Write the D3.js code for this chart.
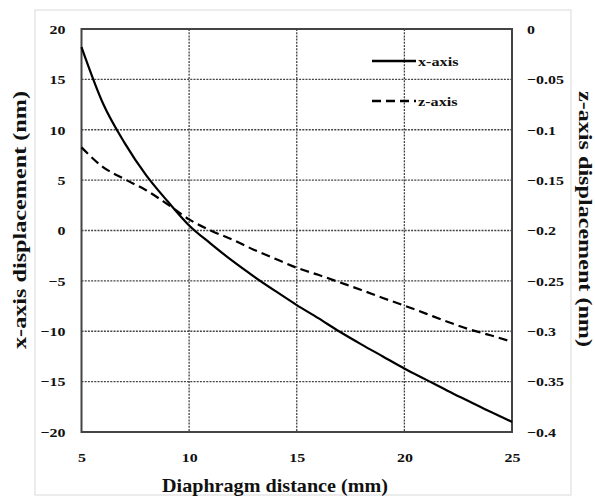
<!DOCTYPE html>
<html>
<head>
<meta charset="utf-8">
<script src="https://cdn.jsdelivr.net/npm/d3@7"></script>
<style>
  body { margin: 0; background: #fff; }
  svg { display: block; }
  text { font-family: "Liberation Serif", "Times New Roman", serif; font-weight: bold; fill: #111; }
</style>
</head>
<body>
<svg id="chart" width="595" height="500"></svg>
<script>
// ---- data ----
const distance = [5, 6, 7, 8, 9, 10, 11, 12, 13, 14, 15, 16, 17, 18, 19, 20, 21, 22, 23, 24, 25];
const xAxisDisp = [18.2, 12.6, 8.7, 5.5, 2.9, 0.5, -1.3, -3.0, -4.55, -6.0, -7.4, -8.7, -10.05, -11.3, -12.5, -13.7, -14.8, -15.9, -16.95, -18.0, -19.0];
const zAxisDisp = [-0.1175, -0.137, -0.149, -0.160, -0.174, -0.189, -0.200, -0.209, -0.219, -0.228, -0.237, -0.244, -0.2515, -0.259, -0.267, -0.2745, -0.2825, -0.2905, -0.298, -0.304, -0.3105];
const xTicks = [5, 10, 15, 20, 25];
const leftTicks = [20, 15, 10, 5, 0, -5, -10, -15, -20];
const rightTicks = [0, -0.05, -0.1, -0.15, -0.2, -0.25, -0.3, -0.35, -0.4];
const seriesNames = ["x-axis", "z-axis"];
const xTitle = "Diaphragm distance (mm)";
const leftTitle = "x-axis displacement (nm)";
const rightTitle = "z-axis displacement (nm)";

// ---- layout ----
const svg = d3.select("#chart");
const L = 81.5, R = 512, T = 29, B = 432;
const x = d3.scaleLinear().domain([5, 25]).range([L, R]);
const yL = d3.scaleLinear().domain([-20, 20]).range([B, T]);
const yR = d3.scaleLinear().domain([-0.4, 0]).range([B, T]);

// horizontal stretch helper (reference typography is widened)
function stretch(sel, k) {
  sel.each(function () {
    const w = this.getComputedTextLength();
    d3.select(this).attr("textLength", w * k).attr("lengthAdjust", "spacingAndGlyphs");
  });
}

// outer frame
svg.append("rect").attr("x", 35).attr("y", 10).attr("width", 536).attr("height", 485)
  .attr("fill", "#fff").attr("stroke", "#d9d9d9").attr("stroke-width", 1);

// grid
const grid = svg.append("g").attr("stroke", "#444").attr("stroke-width", 1.3).attr("stroke-dasharray", "2,1.2");
grid.selectAll("line.v").data(xTicks.filter(d => d > 5 && d < 25)).join("line")
  .attr("x1", d => x(d)).attr("x2", d => x(d)).attr("y1", T).attr("y2", B);
grid.selectAll("line.h").data(leftTicks.filter(d => d > -20 && d < 20)).join("line")
  .attr("class", "h")
  .attr("x1", L).attr("x2", R).attr("y1", d => yL(d)).attr("y2", d => yL(d));

// axes (labels only, via d3 axes)
const axL = svg.append("g").attr("transform", `translate(${L},0)`)
  .call(d3.axisLeft(yL).tickValues(leftTicks).tickSize(0).tickPadding(16).tickFormat(d3.format("d")));
const axR = svg.append("g").attr("transform", `translate(${R},0)`)
  .call(d3.axisRight(yR).tickValues(rightTicks).tickSize(0).tickPadding(15).tickFormat(d => d === 0 ? "0" : d3.format("")(d)));
const axB = svg.append("g").attr("transform", `translate(0,${B})`)
  .call(d3.axisBottom(x).tickValues(xTicks).tickSize(0).tickPadding(20).tickFormat(d3.format("d")));
[axL, axR, axB].forEach(a => {
  a.select(".domain").remove();
  a.selectAll("text").attr("font-size", 13.5).attr("font-family", "Liberation Serif").attr("font-weight", "bold").attr("fill", "#111");
  stretch(a.selectAll("text"), 1.18);
});

// plot border
svg.append("rect").attr("x", L).attr("y", T).attr("width", R - L).attr("height", B - T)
  .attr("fill", "none").attr("stroke", "#444").attr("stroke-width", 2);

// lines
const lineL = d3.line().x((d, i) => x(distance[i])).y(d => yL(d)).curve(d3.curveMonotoneX);
const lineR = d3.line().x((d, i) => x(distance[i])).y(d => yR(d)).curve(d3.curveMonotoneX);
svg.append("path").datum(xAxisDisp).attr("d", lineL)
  .attr("fill", "none").attr("stroke", "#000").attr("stroke-width", 2.2);
svg.append("path").datum(zAxisDisp).attr("d", lineR)
  .attr("fill", "none").attr("stroke", "#000").attr("stroke-width", 2.2).attr("stroke-dasharray", "9,5");

// legend
const leg = svg.append("g");
const legY = [61, 101];
leg.selectAll("line").data(seriesNames).join("line")
  .attr("x1", 372).attr("x2", 416).attr("y1", (d, i) => legY[i]).attr("y2", (d, i) => legY[i])
  .attr("stroke", "#000").attr("stroke-width", 2.4)
  .attr("stroke-dasharray", (d, i) => i === 1 ? "9,5" : null);
const legText = leg.selectAll("text").data(seriesNames).join("text")
  .attr("x", 418).attr("y", (d, i) => legY[i] + 4.5).attr("font-size", 13.5).text(d => d);
stretch(legText, 1.2);

// titles
svg.append("text").attr("x", 275).attr("y", 492).attr("text-anchor", "middle")
  .attr("font-size", 19).attr("textLength", 226).attr("lengthAdjust", "spacingAndGlyphs").text(xTitle);
svg.append("text").attr("transform", "translate(26,220) rotate(-90)").attr("text-anchor", "middle")
  .attr("font-size", 19).attr("textLength", 258).attr("lengthAdjust", "spacingAndGlyphs").text(leftTitle);
svg.append("text").attr("transform", "translate(579,219) rotate(90)").attr("text-anchor", "middle")
  .attr("font-size", 19).attr("textLength", 256).attr("lengthAdjust", "spacingAndGlyphs").text(rightTitle);
</script>
</body>
</html>
